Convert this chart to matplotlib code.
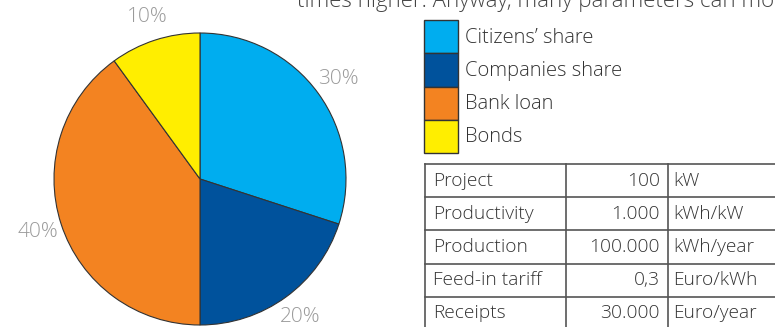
import matplotlib
matplotlib.use('Agg')

import matplotlib.pyplot as plt
from matplotlib.patches import Rectangle

plt.rcParams['font.family'] = ['Open Sans', 'DejaVu Sans']

# Financing shares of the plant
sources = ["Citizens\u2019 share", "Companies share", "Bank loan", "Bonds"]
shares = [30, 20, 40, 10]
colors = ['#00ADEF', '#00529C', '#F38321', '#FFEE00']

# Plant economics
row_labels = ["Project", "Productivity", "Production", "Feed-in tariff", "Receipts"]
row_values = ["100", "1.000", "100.000", "0,3", "30.000"]
row_units = ["kW", "kWh/kW", "kWh/year", "Euro/kWh", "Euro/year"]

header_text = "times higher. Anyway, many parameters can mo"

W, H = 775, 327
fig = plt.figure(figsize=(W / 100, H / 100), dpi=100)
ax = fig.add_axes([0, 0, 1, 1])

txt_kw = dict(fontsize=14.5, color='#333333', fontweight='light')
cell_kw = dict(txt_kw, fontsize=13.8)

# pie, clockwise from 12 o'clock
wedges, _, pct_texts = ax.pie(
    shares, colors=colors, startangle=90, counterclock=False,
    center=(200, H - 179), radius=146,
    autopct='%.0f%%', pctdistance=1.17,
    wedgeprops=dict(edgecolor='#333333', linewidth=0.8),
    textprops=dict(color='#9A9A9A', fontsize=15, fontweight='light'))

# legend boxes
box_x, box_y, box_w, box_h = 424, 20, 34, 33.25
for i, (name, c) in enumerate(zip(sources, colors)):
    top = box_y + i * box_h
    ax.add_patch(Rectangle((box_x, H - top - box_h), box_w, box_h,
                           facecolor=c, edgecolor='#333333', linewidth=1.0))
    ax.text(465, H - top - box_h / 2 - 1, name, ha='left', va='center', **txt_kw)

# table
tab_top, row_h = 164, 33.2
col_x = [425, 566, 668, 800]
n = len(row_labels)
line_kw = dict(color='#555555', linewidth=1.2)
for i in range(n + 1):
    y = H - (tab_top + i * row_h)
    ax.plot([col_x[0], col_x[-1]], [y, y], **line_kw)
for x in col_x[:-1]:
    ax.plot([x, x], [H - tab_top, H - (tab_top + n * row_h)], **line_kw)

for i in range(n):
    yc = H - (tab_top + (i + 0.5) * row_h)
    ax.text(col_x[0] + 8, yc, row_labels[i], ha='left', va='center', **cell_kw)
    ax.text(col_x[2] - 8, yc, row_values[i], ha='right', va='center', **cell_kw)
    ax.text(col_x[2] + 5, yc, row_units[i], ha='left', va='center', **cell_kw)

# running text above, cut off by the page edge
ax.text(297, H - 7, header_text, ha='left', va='baseline',
        fontsize=16, color='#444444', fontweight='light')

ax.set_xlim(0, W)
ax.set_ylim(0, H)
ax.set_aspect('equal')
ax.axis('off')

fig.savefig('out.png', dpi=100)
plt.close(fig)
